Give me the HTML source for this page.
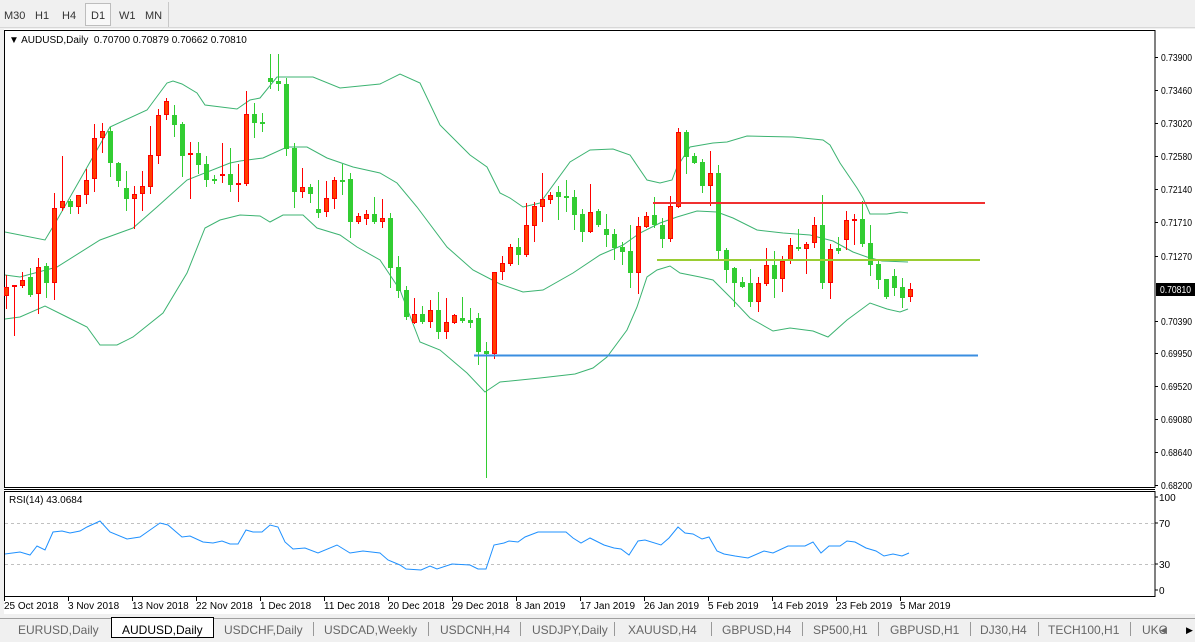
<!DOCTYPE html>
<html><head><meta charset="utf-8">
<style>
html,body{margin:0;padding:0;background:#f0f0f0;}
body{width:1195px;height:642px;overflow:hidden;font-family:"Liberation Sans",sans-serif;}
svg text{font-family:"Liberation Sans",sans-serif;}
</style></head>
<body>
<svg id="s" width="1195" height="642" xmlns="http://www.w3.org/2000/svg" style="position:absolute;left:0;top:0">
<rect x="0" y="0" width="1195" height="642" fill="#f0f0f0"/>
<line x1="0" y1="27.5" x2="1195" y2="27.5" stroke="#d8d8d8"/>
<rect x="85.5" y="3.5" width="25" height="22" fill="#f8f8f8" stroke="#bdbdbd"/>
<line x1="168.5" y1="2" x2="168.5" y2="27" stroke="#c8c8c8"/>
<g font-size="11" fill="#333">
<text x="4" y="19">M30</text><text x="35" y="19">H1</text><text x="62" y="19">H4</text>
<text x="91" y="19">D1</text><text x="119" y="19">W1</text><text x="145" y="19">MN</text>
</g>
<rect x="4" y="29" width="1191" height="585" fill="#fff"/>
<rect x="4.5" y="30.5" width="1150.5" height="457" fill="none" stroke="#000"/>
<line x1="4" y1="489.5" x2="1155" y2="489.5" stroke="#000"/>
<rect x="4.5" y="491.5" width="1150.5" height="105" fill="none" stroke="#000"/>
<text x="9" y="43" font-size="10" fill="#000">&#9660; AUDUSD,Daily&#160;&#160;0.70700 0.70879 0.70662 0.70810</text>
<text x="9" y="503" font-size="10" fill="#000">RSI(14) 43.0684</text>
<g id="axis" font-size="10" fill="#000"></g>
<rect x="1156" y="283" width="39" height="13" fill="#000"/>
<text x="1160" y="293" font-size="10" fill="#fff" textLength="31" lengthAdjust="spacingAndGlyphs">0.70810</text>
<line x1="5" y1="523.5" x2="1154" y2="523.5" stroke="#c0c0c0" stroke-dasharray="3,3"/>
<line x1="5" y1="564.5" x2="1154" y2="564.5" stroke="#c0c0c0" stroke-dasharray="3,3"/>
<g font-size="10" fill="#000">
<text x="1159" y="501">100</text><text x="1159" y="527">70</text><text x="1159" y="568">30</text><text x="1159" y="594">0</text>
</g>
<g stroke="#000"><line x1="1155" y1="497" x2="1158" y2="497"/><line x1="1155" y1="523" x2="1158" y2="523"/><line x1="1155" y1="564" x2="1158" y2="564"/><line x1="1155" y1="590" x2="1158" y2="590"/></g>
<g id="bands" fill="none" stroke="#3cb371" stroke-width="1"></g>
<g id="candles"></g>
<line x1="653" y1="203" x2="985" y2="203" stroke="#f03030" stroke-width="2"/>
<line x1="657" y1="260" x2="980" y2="260" stroke="#9acd32" stroke-width="2"/>
<line x1="474" y1="355.5" x2="978" y2="355.5" stroke="#3a8ee0" stroke-width="2"/>
<polyline id="rsi" fill="none" stroke="#1e90ff" stroke-width="1"/>
<g id="dates" font-size="10" fill="#000"></g>
<rect x="0" y="614" width="1195" height="28" fill="#f0f0f0"/>
<line x1="0" y1="618.5" x2="1195" y2="618.5" stroke="#a0a0a0"/>
<rect x="111.5" y="617.5" width="102" height="20" fill="#fff" stroke="#000"/>
<g font-size="12" fill="#666">
<text x="18" y="634">EURUSD,Daily</text>
<text x="122" y="634" fill="#000">AUDUSD,Daily</text>
<text x="224" y="634">USDCHF,Daily</text>
<text x="324" y="634">USDCAD,Weekly</text>
<text x="440" y="634">USDCNH,H4</text>
<text x="532" y="634">USDJPY,Daily</text>
<text x="628" y="634">XAUUSD,H4</text>
<text x="722" y="634">GBPUSD,H4</text>
<text x="813" y="634">SP500,H1</text>
<text x="890" y="634">GBPUSD,H1</text>
<text x="980" y="634">DJ30,H4</text>
<text x="1048" y="634">TECH100,H1</text>
<text x="1142" y="634">UKC</text>
<text x="1160" y="633" font-size="9">&#9664;</text>
<text x="1186" y="633" font-size="9" fill="#000">&#9654;</text>
</g>
<g stroke="#999"><line x1="313.5" y1="622" x2="313.5" y2="636"/><line x1="428.5" y1="622" x2="428.5" y2="636"/><line x1="520.5" y1="622" x2="520.5" y2="636"/><line x1="614.5" y1="622" x2="614.5" y2="636"/><line x1="711.5" y1="622" x2="711.5" y2="636"/><line x1="802.5" y1="622" x2="802.5" y2="636"/><line x1="878.5" y1="622" x2="878.5" y2="636"/><line x1="970.5" y1="622" x2="970.5" y2="636"/><line x1="1038.5" y1="622" x2="1038.5" y2="636"/><line x1="1130.5" y1="622" x2="1130.5" y2="636"/></g>
</svg>
<script>
var NS="http://www.w3.org/2000/svg";
function el(p,t,a,txt){var e=document.createElementNS(NS,t);for(var k in a)e.setAttribute(k,a[k]);if(txt)e.textContent=txt;document.getElementById(p).appendChild(e);return e;}
var labs=[["0.73900",57],["0.73460",90],["0.73020",123],["0.72580",156],["0.72140",189],["0.71710",222],["0.71270",256],["0.70390",321],["0.69950",353],["0.69520",386],["0.69080",419],["0.68640",452],["0.68200",485]];
labs.forEach(function(l){el("axis","text",{x:1161,y:l[1]+4,textLength:31,lengthAdjust:"spacingAndGlyphs"},l[0]);el("axis","line",{x1:1155,y1:l[1]+.5,x2:1158,y2:l[1]+.5,stroke:"#000"});});
var C=[
"r 287 296 275 308","r 285 287 285 335","r 280 286 272 287","g 277 295 268 296","r 267 294 258 313","g 266 283 263 297","r 208 283 193 299","r 201 208 156 210","g 201 207 199 213","r 195 207 195 213",
"r 180 195 169 203","r 138 179 124 191","r 131 138 123 152","g 131 163 127 176","g 163 181 162 186","g 188 199 171 210","r 194 199 186 228","r 186 194 171 210","r 155 187 126 193","r 115 156 109 163",
"r 101 115 98 119","g 115 125 105 136","g 124 156 122 176","r 153 155 142 198","g 153 165 142 173","g 164 180 156 186","g 179 181 175 183","r 174 175 143 182","g 174 185 148 191","r 183 185 164 201",
"r 114 184 91 185","g 114 123 103 137","g 122 123 113 131","g 78 82 54 88","g 81 84 54 90","g 84 149 78 155","g 148 192 143 207","r 187 192 168 197","g 187 194 184 202","g 209 213 180 217",
"r 198 212 181 216","r 180 199 177 208","g 180 181 164 194","g 179 222 173 237","r 216 222 213 223","r 214 219 210 224","g 214 222 197 223","r 218 222 199 227","g 218 268 213 287","g 267 291 256 297",
"g 290 317 286 319","r 314 323 298 323","g 314 322 306 323","r 310 322 300 327","g 310 332 292 338","r 322 332 298 338","r 315 323 314 323","g 318 321 297 322","g 320 323 308 327","g 318 352 313 364",
"g 351 354 342 477","r 272 354 272 358","r 263 272 256 279","r 247 264 244 265","g 247 255 238 264","r 225 255 203 256","r 206 226 202 241","r 199 207 173 221","r 195 200 192 203","g 192 197 186 219",
"g 196 198 180 211","g 197 215 190 229","g 214 232 209 241","r 212 232 184 232","g 211 225 209 226","g 229 235 214 246","g 234 248 229 259","g 247 252 242 264","g 251 273 225 287","r 226 273 217 293",
"r 216 227 212 227","g 215 225 197 227","g 225 239 218 247","r 206 239 196 241","r 132 207 128 207","g 132 157 130 173","g 156 163 153 163","g 162 186 159 192","r 173 186 151 205","g 173 251 165 258",
"g 250 270 248 282","g 268 283 267 306","g 282 287 277 287","g 283 302 269 306","r 283 302 277 311","r 265 284 248 285","g 265 279 251 297","r 261 279 256 291","r 245 260 238 263","g 247 249 229 250",
"r 244 249 242 273","r 225 243 217 247","g 225 283 195 288","r 249 283 244 298","g 248 251 237 253","r 220 240 211 249","r 219 220 214 244","g 219 244 201 246","g 243 265 225 275","g 264 280 259 288",
"g 279 297 279 298","g 276 288 269 295","g 287 298 278 307","r 289 297 283 301"];
C.forEach(function(s,i){var p=s.split(" "),c=p[0],bt=+p[1],bb=+p[2],wt=+p[3],wb=+p[4];var x=Math.round(5.7+8*i);
var col=c=="r"?"#ff0000":"#32cd32";
el("candles","line",{x1:x+.5,y1:wt,x2:x+.5,y2:wb+1,stroke:col});
var h=Math.max(bb-bt,1);
if(c=="r")el("candles","rect",{x:x-1.5,y:bt+.5,width:4,height:Math.max(h-1,1),fill:"#ff3f00",stroke:"#ff0000"});
else el("candles","rect",{x:x-2,y:bt,width:5,height:Math.max(h,2),fill:"#32cd32"});});
var U=[[5,232],[45,240],[57,220],[110,127],[147,110],[167,83],[173,81],[182,84],[197,93],[205,105],[237,109],[250,100],[260,98],[277,77],[313,77],[340,88],[380,84],[400,74],[420,83],[440,125],[470,155],[487,167],[500,193],[510,198],[523,207],[540,203],[570,162],[590,150],[613,149],[630,155],[647,180],[660,183],[672,180],[677,167],[690,147],[713,143],[727,142],[747,136],[793,137],[823,140],[830,145],[840,163],[857,188],[863,198],[870,214],[887,214],[900,212],[908,213]];
var M=[[5,275],[20,277],[57,267],[100,240],[133,228],[157,207],[187,180],[230,163],[240,161],[263,158],[287,147],[307,147],[327,158],[353,167],[380,173],[397,183],[417,207],[447,247],[473,270],[500,284],[523,292],[543,290],[573,273],[600,255],[623,245],[640,233],[660,223],[677,217],[697,211],[717,212],[733,218],[757,230],[783,233],[810,235],[833,241],[853,252],[867,257],[882,261],[908,262]];
var L=[[5,319],[20,317],[45,306],[67,317],[87,327],[100,345],[117,345],[133,337],[163,313],[187,273],[205,228],[220,220],[240,215],[260,216],[270,222],[283,215],[303,215],[317,228],[340,235],[357,247],[380,260],[400,290],[420,342],[440,350],[467,373],[485,392],[500,382],[540,378],[575,374],[593,368],[607,357],[627,330],[637,307],[647,277],[657,270],[670,266],[680,273],[700,277],[713,280],[733,300],[750,318],[773,331],[790,328],[813,331],[828,337],[847,320],[870,303],[887,309],[900,312],[908,309]];
[U,M,L].forEach(function(a){el("bands","polyline",{points:a.map(function(p){return p.join(",")}).join(" ")});});
var R=[[5,554],[20,552],[30,555],[37,546],[45,550],[53,532],[62,531],[70,533],[80,531],[87,527],[100,521],[110,532],[127,539],[140,537],[150,530],[160,523],[168,525],[182,537],[190,536],[203,542],[213,543],[222,541],[230,544],[238,544],[246,530],[253,532],[262,532],[270,525],[278,527],[285,542],[293,549],[305,548],[318,553],[337,545],[350,553],[363,551],[380,553],[388,560],[400,565],[406,569],[421,570],[430,566],[437,569],[452,564],[470,565],[478,569],[486,569],[494,545],[504,543],[509,541],[518,542],[525,537],[538,532],[566,532],[573,538],[581,543],[590,538],[604,545],[614,548],[621,549],[629,555],[638,541],[645,540],[661,545],[669,538],[678,527],[685,533],[693,534],[702,539],[709,537],[717,551],[724,554],[735,556],[748,558],[764,551],[773,553],[788,546],[805,546],[813,542],[821,553],[829,546],[840,546],[847,541],[855,542],[866,548],[876,551],[884,556],[893,554],[902,556],[909,553]];
document.getElementById("rsi").setAttribute("points",R.map(function(p){return p.join(",")}).join(" "));
var D=["25 Oct 2018","3 Nov 2018","13 Nov 2018","22 Nov 2018","1 Dec 2018","11 Dec 2018","20 Dec 2018","29 Dec 2018","8 Jan 2019","17 Jan 2019","26 Jan 2019","5 Feb 2019","14 Feb 2019","23 Feb 2019","5 Mar 2019"];
D.forEach(function(d,i){var x=4+64*i;el("dates","text",{x:x,y:609},d);el("dates","line",{x1:x+.5,y1:597,x2:x+.5,y2:601,stroke:"#000"});});
</script>
</body></html>
